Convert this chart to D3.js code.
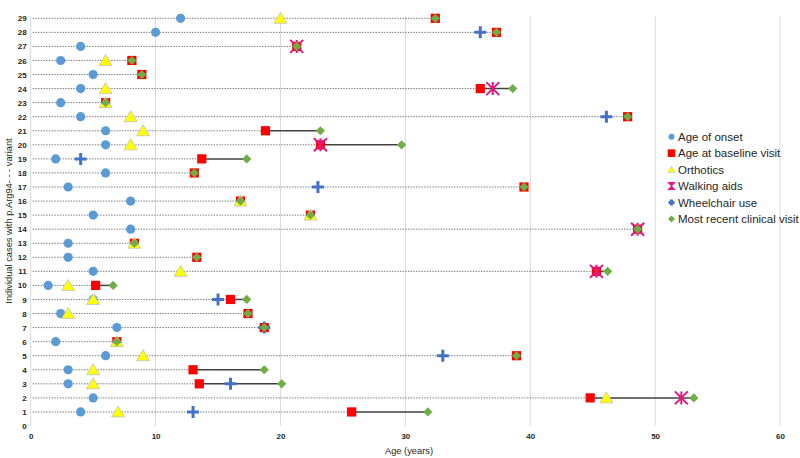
<!DOCTYPE html>
<html><head><meta charset="utf-8">
<script src="https://cdn.jsdelivr.net/npm/d3@7"></script>
<style>body{margin:0;background:#fff;} svg{display:block;font-family:"Liberation Sans",Arial,sans-serif;}</style>
</head><body><div id="chart"></div>
<script>
const cases = d3.range(1, 30);
const onset      = [4,5,3,3,6,2,6.9,2.4,5,1.4,5,3,3,8,5,8,3,6,2,6,6,4,2.4,4,5,2.4,4,10,12];
const baseline   = [25.7,44.8,13.5,13.0,38.9,6.9,18.7,17.4,16,5.2,45.3,13.3,8.3,48.6,22.4,16.8,39.5,13.1,13.7,23.2,18.8,47.8,6.0,36.0,8.9,8.1,21.3,37.3,32.4];
const orthotics  = [7,46.1,5,5,9,6.9,null,3,5,3,12,null,8.3,null,22.4,16.8,null,null,null,8,9,8,6.0,6,null,6,null,null,20];
const walking    = [null,52.1,null,null,null,null,null,null,null,null,45.3,null,null,48.6,null,null,null,null,null,23.2,null,null,null,37.0,null,null,21.3,null,null];
const wheelchair = [13,null,16,null,33.0,null,18.7,null,15,null,null,null,null,null,null,null,23.0,null,4,null,null,46.1,null,null,null,null,null,36.0,null];
const recent     = [31.8,53.1,20.1,18.7,38.9,6.9,18.7,17.4,17.3,6.6,46.2,13.3,8.3,48.6,22.4,16.8,39.5,13.1,17.3,29.7,23.2,47.8,6.0,38.6,8.9,8.1,21.3,37.3,32.4];
const xTicks = [0,10,20,30,40,50,60];
const yTicks = d3.range(0, 30);
const seriesNames = ["Age of onset","Age at baseline visit","Orthotics","Walking aids","Wheelchair use","Most recent clinical visit"];

const W = 800, H = 458;
const svg = d3.select("#chart").append("svg").attr("width", W).attr("height", H);
const x = d3.scaleLinear().domain([0, 60]).range([30.7, 780]);
const y = d3.scaleLinear().domain([0, 29]).range([426, 18.3]);

// vertical gridlines
svg.append("g").selectAll("line").data(xTicks).join("line")
  .attr("x1", d => x(d)).attr("x2", d => x(d)).attr("y1", 16.5).attr("y2", 426)
  .attr("stroke", "#d9d9d9").attr("stroke-width", 1);

// axes (labels only)
const xAxis = svg.append("g").attr("transform", "translate(0,426)")
  .call(d3.axisBottom(x).tickValues(xTicks).tickSize(0).tickPadding(7));
xAxis.select(".domain").remove();
xAxis.selectAll("text").attr("font-size", 8).attr("font-weight", "bold").attr("fill", "#262626")
  .attr("font-family", "'Liberation Sans',Arial,sans-serif");
const yAxis = svg.append("g").attr("transform", "translate(30.7,0)")
  .call(d3.axisLeft(y).tickValues(yTicks).tickSize(0).tickPadding(4));
yAxis.select(".domain").remove();
yAxis.selectAll("text").attr("font-size", 8).attr("font-weight", "bold").attr("fill", "#262626")
  .attr("font-family", "'Liberation Sans',Arial,sans-serif");

// axis titles
svg.append("text").attr("x", 409).attr("y", 454).attr("text-anchor", "middle")
  .attr("font-size", 9.3).attr("fill", "#262626").text("Age (years)");
svg.append("text").attr("transform", "translate(12,221) rotate(-90)").attr("text-anchor", "middle")
  .attr("font-size", 9.3).attr("fill", "#262626").text("Individual cases with p.Arg94- - - variant");

const rows = cases.map((c, i) => ({c, on: onset[i], b: baseline[i], o: orthotics[i], w: walking[i], wc: wheelchair[i], r: recent[i]}));

// dotted lines from 0 to baseline
svg.append("g").selectAll("line").data(rows).join("line")
  .attr("x1", x(0) + 2).attr("x2", d => x(d.b)).attr("y1", d => y(d.c)).attr("y2", d => y(d.c))
  .attr("stroke", "#7f7f7f").attr("stroke-width", 1).attr("stroke-dasharray", "1.5,1.2");
// solid lines from baseline to most recent
svg.append("g").selectAll("line").data(rows.filter(d => d.r > d.b)).join("line")
  .attr("x1", d => x(d.b)).attr("x2", d => x(d.r)).attr("y1", d => y(d.c)).attr("y2", d => y(d.c))
  .attr("stroke", "#404040").attr("stroke-width", 1.5);

const colors = {on: "#5B9BD5", b: "#FF0000", o: "#FFFF00", w: "#E2187F", wc: "#4472C4", r: "#70AD47"};

function drawMarker(g, type, s) {
  if (type === "on") g.append("circle").attr("r", 4.6 * s).attr("fill", colors.on);
  else if (type === "b") g.append("rect").attr("x", -4.6 * s).attr("y", -4.6 * s).attr("width", 9.2 * s).attr("height", 9.2 * s).attr("fill", colors.b);
  else if (type === "o") g.append("path").attr("d", `M0,${-6*s}L${6.5*s},${5*s}L${-6.5*s},${5*s}Z`).attr("fill", colors.o).attr("stroke", "#c0c0c0").attr("stroke-width", 0.8);
  else if (type === "w") {
    const a = 6.5 * s;
    g.append("path").attr("d", `M${-a},${-a}L${a},${a}M${a},${-a}L${-a},${a}M0,${-a}L0,${a}`)
      .attr("stroke", colors.w).attr("stroke-width", 2 * s).attr("fill", "none");
  }
  else if (type === "wc") {
    const a = 6 * s;
    g.append("path").attr("d", `M${-a},0L${a},0M0,${-a}L0,${a}`).attr("stroke", colors.wc).attr("stroke-width", 3 * s).attr("fill", "none");
  }
  else if (type === "r") {
    const a = 4.6 * s;
    g.append("path").attr("d", `M0,${-a}L${a},0L0,${a}L${-a},0Z`).attr("fill", colors.r);
  }
}

["on", "b", "o", "w", "wc", "r"].forEach(key => {
  const g = svg.append("g");
  rows.filter(d => d[key] != null).forEach(d => {
    const m = g.append("g").attr("transform", `translate(${x(d[key])},${y(d.c)})`);
    drawMarker(m, key, 1);
  });
});

// legend
const legend = svg.append("g").attr("transform", "translate(671.5,136.7)");
["on", "b", "o", "w", "wc", "r"].forEach((key, i) => {
  const li = legend.append("g").attr("transform", `translate(0,${i * 16.45})`);
  const m = li.append("g");
  if (key === "w") {
    m.append("path").attr("d", "M-3.5,-3.5L3.5,-3.5L-3.5,3.5L3.5,3.5Z").attr("fill", colors.w).attr("stroke", colors.w).attr("stroke-width", 1);
  } else if (key === "wc") {
    m.append("path").attr("d", "M-3,0L3,0M0,-3L0,3").attr("stroke", colors.wc).attr("stroke-width", 3);
  } else if (key === "b") {
    m.append("rect").attr("x", -3.8).attr("y", -3.8).attr("width", 7.6).attr("height", 7.6).attr("fill", colors.b);
  } else if (key === "on") {
    m.append("circle").attr("r", 3).attr("fill", colors.on);
  } else if (key === "o") {
    m.append("path").attr("d", "M0,-3.5L3.8,3L-3.8,3Z").attr("fill", colors.o).attr("stroke", "#c0c0c0").attr("stroke-width", 0.6);
  } else if (key === "r") {
    m.append("path").attr("d", "M0,-3.5L3.5,0L0,3.5L-3.5,0Z").attr("fill", colors.r);
  }
  li.append("text").attr("x", 6.5).attr("y", 4.2).attr("font-size", 11.5).attr("fill", "#262626").text(seriesNames[i]);
});
</script></body></html>
